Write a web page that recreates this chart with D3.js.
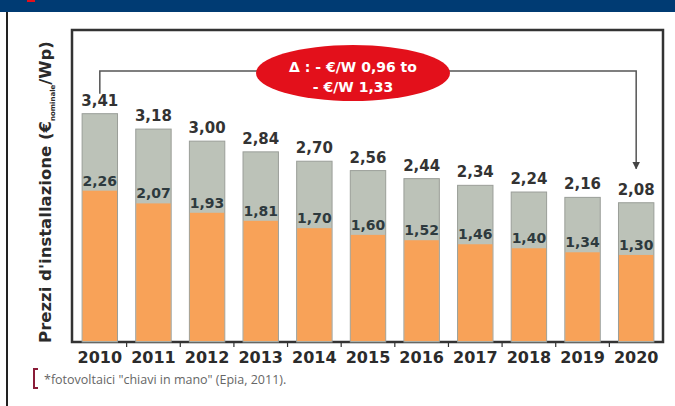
<!DOCTYPE html>
<html>
<head>
<meta charset="utf-8">
<script src="https://cdn.jsdelivr.net/npm/d3@7"></script>
<style>
  body { margin: 0; background: #fff; }
  svg { display: block; }
</style>
</head>
<body>
<svg width="675" height="406"></svg>
<script>
// data
const years = ["2010", "2011", "2012", "2013", "2014", "2015", "2016", "2017", "2018", "2019", "2020"];
const totalPrice = [3.41, 3.18, 3.00, 2.84, 2.70, 2.56, 2.44, 2.34, 2.24, 2.16, 2.08];
const modulePrice = [2.26, 2.07, 1.93, 1.81, 1.70, 1.60, 1.52, 1.46, 1.40, 1.34, 1.30];
const deltaLines = ["\u0394 : - \u20AC/W 0,96 to", "- \u20AC/W 1,33"];

const fmt = v => d3.format(".2f")(v).replace(".", ",");
const font = "'DejaVu Sans', sans-serif";

const svg = d3.select("svg");

// frame of the page
svg.append("rect")
  .attr("x", 0).attr("y", 0)
  .attr("width", 675).attr("height", 12)
  .attr("fill", "#003b73");
svg.append("rect")
  .attr("x", 27).attr("y", 0)
  .attr("width", 8).attr("height", 2)
  .attr("fill", "#e3101b");
svg.append("line")
  .attr("x1", 7).attr("x2", 7)
  .attr("y1", 12).attr("y2", 406)
  .attr("stroke", "#222")
  .attr("stroke-width", 2);

const boxLeft = 72, boxRight = 663, boxTop = 30, boxBottom = 342;

const x = d3.scaleBand()
  .domain(years)
  .range([73, 663])
  .paddingInner(0.34)
  .paddingOuter(0.17);

const y = d3.scaleLinear()
  .domain([0, 4.66])
  .range([boxBottom, boxTop]);

// chart box
svg.append("rect")
  .attr("x", boxLeft).attr("y", boxTop)
  .attr("width", boxRight - boxLeft).attr("height", boxBottom - boxTop)
  .attr("fill", "none")
  .attr("stroke", "#333")
  .attr("stroke-width", 2.5);

const bars = svg.append("g")
  .selectAll("g")
  .data(years)
  .enter()
  .append("g");

bars.append("rect")
  .attr("x", d => x(d))
  .attr("width", x.bandwidth())
  .attr("y", (d, i) => y(totalPrice[i]))
  .attr("height", (d, i) => y(0) - y(totalPrice[i]))
  .attr("fill", "#bcc2b8")
  .attr("stroke", "#9a9e98")
  .attr("stroke-width", 1);

bars.append("rect")
  .attr("x", d => x(d) + 0.5)
  .attr("width", x.bandwidth() - 1)
  .attr("y", (d, i) => y(modulePrice[i]))
  .attr("height", (d, i) => y(0) - y(modulePrice[i]) - 1)
  .attr("fill", "#f8a258");

bars.append("text")
  .attr("x", d => x(d) + x.bandwidth() / 2)
  .attr("y", (d, i) => y(totalPrice[i]) - 8)
  .attr("text-anchor", "middle")
  .style("font-family", font)
  .style("font-weight", "bold")
  .style("font-size", "15px")
  .style("fill", "#333")
  .text((d, i) => fmt(totalPrice[i]));

bars.append("text")
  .attr("x", d => x(d) + x.bandwidth() / 2)
  .attr("y", (d, i) => y(modulePrice[i]) - 5)
  .attr("text-anchor", "middle")
  .style("font-family", font)
  .style("font-weight", "bold")
  .style("font-size", "14px")
  .style("fill", "#2e3a3e")
  .text((d, i) => fmt(modulePrice[i]));

// x axis
const step = x.step();
const xAxis = svg.append("g")
  .attr("transform", `translate(0,${boxBottom})`);
xAxis.selectAll("line")
  .data(years.slice(1))
  .enter()
  .append("line")
  .attr("x1", d => x(d) - (step - x.bandwidth()) / 2)
  .attr("x2", d => x(d) - (step - x.bandwidth()) / 2)
  .attr("y1", 0).attr("y2", 5)
  .attr("stroke", "#333")
  .attr("stroke-width", 1.2);
xAxis.selectAll("text")
  .data(years)
  .enter()
  .append("text")
  .attr("x", d => x(d) + x.bandwidth() / 2)
  .attr("y", 21)
  .attr("text-anchor", "middle")
  .style("font-family", font)
  .style("font-weight", "bold")
  .style("font-size", "16px")
  .style("fill", "#2b2b2b")
  .text(d => d);

// y axis title
const yTitle = svg.append("text")
  .attr("transform", "translate(51,192) rotate(-90)")
  .attr("text-anchor", "middle")
  .style("font-family", font)
  .style("font-weight", "bold")
  .style("font-size", "16.5px")
  .style("fill", "#2a2a2a");
yTitle.append("tspan").text("Prezzi d'installazione (\u20AC");
yTitle.append("tspan").attr("dy", 4).style("font-size", "7px").text("nominale");
yTitle.append("tspan").attr("dy", -4).text("/Wp)");

// delta arrow
const x0 = x(years[0]) + x.bandwidth() / 2;
const x1 = x(years[years.length - 1]) + x.bandwidth() / 2;
const arrowY = 71;

svg.append("defs")
  .append("marker")
  .attr("id", "tri")
  .attr("viewBox", "0 0 10 10")
  .attr("refX", 9).attr("refY", 5)
  .attr("markerWidth", 5).attr("markerHeight", 5)
  .attr("orient", "auto")
  .append("path")
  .attr("d", "M0,0 L10,5 L0,10 Z")
  .attr("fill", "#444");

svg.append("path")
  .attr("d", `M${x0},${y(totalPrice[0]) - 20} V${arrowY} H${x1} V${y(totalPrice[10]) - 34}`)
  .attr("fill", "none")
  .attr("stroke", "#555")
  .attr("stroke-width", 1.5)
  .attr("marker-end", "url(#tri)");

svg.append("ellipse")
  .attr("cx", 353).attr("cy", 73)
  .attr("rx", 97).attr("ry", 28)
  .attr("fill", "#e3101b");

svg.append("g")
  .selectAll("text")
  .data(deltaLines)
  .enter()
  .append("text")
  .attr("x", 353)
  .attr("y", (d, i) => 72 + i * 20)
  .attr("text-anchor", "middle")
  .style("font-family", font)
  .style("font-weight", "bold")
  .style("font-size", "14px")
  .style("fill", "#fff")
  .text(d => d);

// source note
svg.append("path")
  .attr("d", "M38,369 H34 V388 H38")
  .attr("fill", "none")
  .attr("stroke", "#8a1c38")
  .attr("stroke-width", 2);
svg.append("text")
  .attr("x", 44).attr("y", 384)
  .style("font-family", "'Open Sans', sans-serif")
  .style("font-size", "12.5px")
  .style("fill", "#666")
  .text("*fotovoltaici \"chiavi in mano\" (Epia, 2011).");
</script>
</body>
</html>
